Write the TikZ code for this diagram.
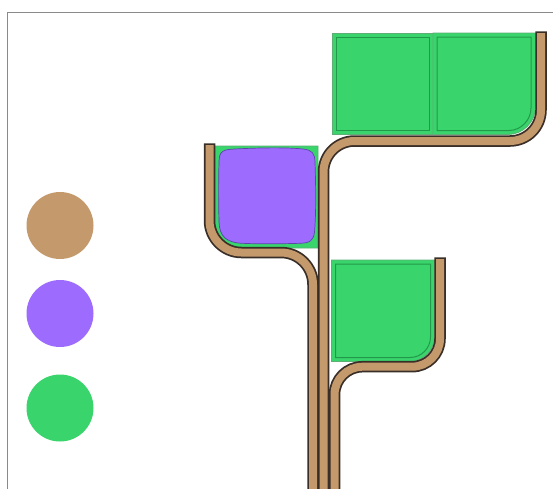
\documentclass[tikz,border=0pt]{standalone}
\definecolor{stripbrown}{HTML}{C49A6C}
\definecolor{darkline}{HTML}{3A2F28}
\definecolor{leafgreen}{HTML}{3AD46C}
\definecolor{edgegreen}{HTML}{5DAF75}
\definecolor{innergreen}{HTML}{22994A}
\definecolor{purplefill}{HTML}{9D6CFF}
\definecolor{purpleline}{HTML}{5E45A8}
\definecolor{framegray}{HTML}{8A8A8A}
\tikzset{
  box/.style={fill=leafgreen, draw=edgegreen, line width=0.8pt},
  innerline/.style={draw=innergreen, line width=1pt},
  stripout/.style={draw=darkline, line width=11.5pt, rounded corners=#1},
  stripin/.style={draw=stripbrown, line width=8pt, rounded corners=#1},
  dot/.style={circle, minimum size=67pt, inner sep=0pt, draw=none}
}
\begin{document}
\begin{tikzpicture}[x=1pt,y=-1pt]
\useasboundingbox (0,0) rectangle (553,488);
\fill[white] (0,0) rectangle (553,488);
\draw[framegray, line width=1pt] (7,490) -- (7,12) -- (555,12);

% legend dots
\node[dot, fill=stripbrown] (dotbrown) at (60,225.5) {};
\node[dot, fill=purplefill] (dotpurple) at (60,313.5) {};
\node[dot, fill=leafgreen] (dotgreen) at (60,408) {};

% top boxes
\filldraw[box] (332,33) rectangle (433,134.5);
\draw[innerline] (336,37) rectangle (429,130.5);
\filldraw[box] (433,33) -- (535.5,33) -- (535.5,107) .. controls (535.5,122) and (523,134.5) .. (508,134.5) -- (433,134.5) -- cycle;
\draw[innerline] (437,37) -- (531,37) -- (531,108) .. controls (531,120) and (521,130.5) .. (509,130.5) -- (437,130.5) -- cycle;

% lower box
\filldraw[box] (331.5,260) -- (434.5,260) -- (434.5,336.5) .. controls (434.5,350) and (423.5,361.5) .. (409.5,361.5) -- (331.5,361.5) -- cycle;
\draw[innerline] (335.5,264) -- (430.5,264) -- (430.5,337) .. controls (430.5,348) and (421.5,357.5) .. (410,357.5) -- (335.5,357.5) -- cycle;

% purple box
\filldraw[box] (318,146) -- (215,146) -- (215,221) .. controls (215,236) and (227,248) .. (242,248) -- (318,248) -- cycle;
\filldraw[fill=purplefill, draw=purpleline, line width=0.7pt]
  (219,162) .. controls (219,151) and (223,149.5) .. (235,149)
  .. controls (262,147.5) and (290,147.5) .. (303,149)
  .. controls (312,150) and (315,153) .. (315,163)
  .. controls (316,190) and (316,215) .. (314.5,232)
  .. controls (313.5,240.5) and (310,243) .. (300,243.3)
  .. controls (276,244) and (258,244) .. (242,243.3)
  .. controls (226,242.5) and (219.5,236) .. (219,222)
  .. controls (218.5,200) and (218.5,180) .. (219,162) -- cycle;

% strips
\draw[stripout=32] (209.5,143.3) -- (209.5,252.5) -- (313,252.5) -- (313,495);
\draw[stripin=32] (209.5,145) -- (209.5,252.5) -- (313,252.5) -- (313,495);
\draw[stripout=31] (541,31.3) -- (541,141) -- (323.5,141) -- (323.5,495);
\draw[stripin=31] (541,33) -- (541,141) -- (323.5,141) -- (323.5,495);
\draw[stripout=28] (440,257.3) -- (440,366.7) -- (334.5,366.7) -- (334.5,495);
\draw[stripin=28] (440,259) -- (440,366.7) -- (334.5,366.7) -- (334.5,495);
\end{tikzpicture}
\end{document}
